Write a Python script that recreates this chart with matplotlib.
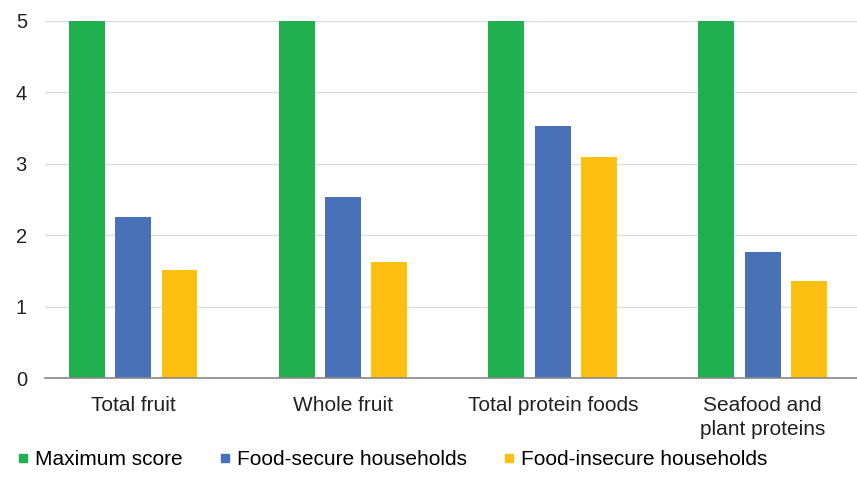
import matplotlib.pyplot as plt
from matplotlib.lines import Line2D
import numpy as np

plt.rcParams['font.family'] = ['Liberation Sans', 'DejaVu Sans']

categories = ["Total fruit", "Whole fruit", "Total protein foods", "Seafood and\nplant proteins"]
series_names = ["Maximum score", "Food-secure households", "Food-insecure households"]
max_score = [5, 5, 5, 5]
food_secure = [2.25, 2.53, 3.53, 1.77]
food_insecure = [1.51, 1.62, 3.10, 1.36]

colors = ["#21B04F", "#4971B8", "#FDBF10"]

fig = plt.figure(figsize=(8.57, 4.93), dpi=100)
ax = fig.add_axes([45 / 857, 115 / 493, 812 / 857, 357 / 493])

x = np.arange(len(categories))
offset = 0.221
width = 0.171
for i, vals in enumerate([max_score, food_secure, food_insecure]):
    ax.bar(x + (i - 1) * offset, vals, width, color=colors[i], zorder=3)

ax.set_xlim(-0.42, 3.45)
ax.set_ylim(0, 5)
ax.set_yticks(range(6))
ax.set_xticks(x)
ax.set_xticklabels(categories, fontsize=15, color="#222222", va="top", linespacing=1.3)
ax.tick_params(axis="y", labelsize=14.5, colors="#222222", length=0, pad=13)
ax.tick_params(axis="x", length=0, pad=13)
ax.grid(axis="y", color="#DDDDDD", linewidth=1, zorder=0)
for s in ["top", "right", "left"]:
    ax.spines[s].set_visible(False)
ax.spines["bottom"].set_color("#888888")
ax.spines["bottom"].set_linewidth(1.2)
ax.spines["bottom"].set_zorder(4)

handles = [Line2D([], [], marker="s", linestyle="none", markersize=6, color=c) for c in colors]
fig.legend(handles, series_names, loc="lower left", bbox_to_anchor=(-0.005, 0.01),
           ncol=3, frameon=False, fontsize=15, handletextpad=0.2, columnspacing=1.6,
           handlelength=0.8)

fig.savefig("out.png", dpi=100)
